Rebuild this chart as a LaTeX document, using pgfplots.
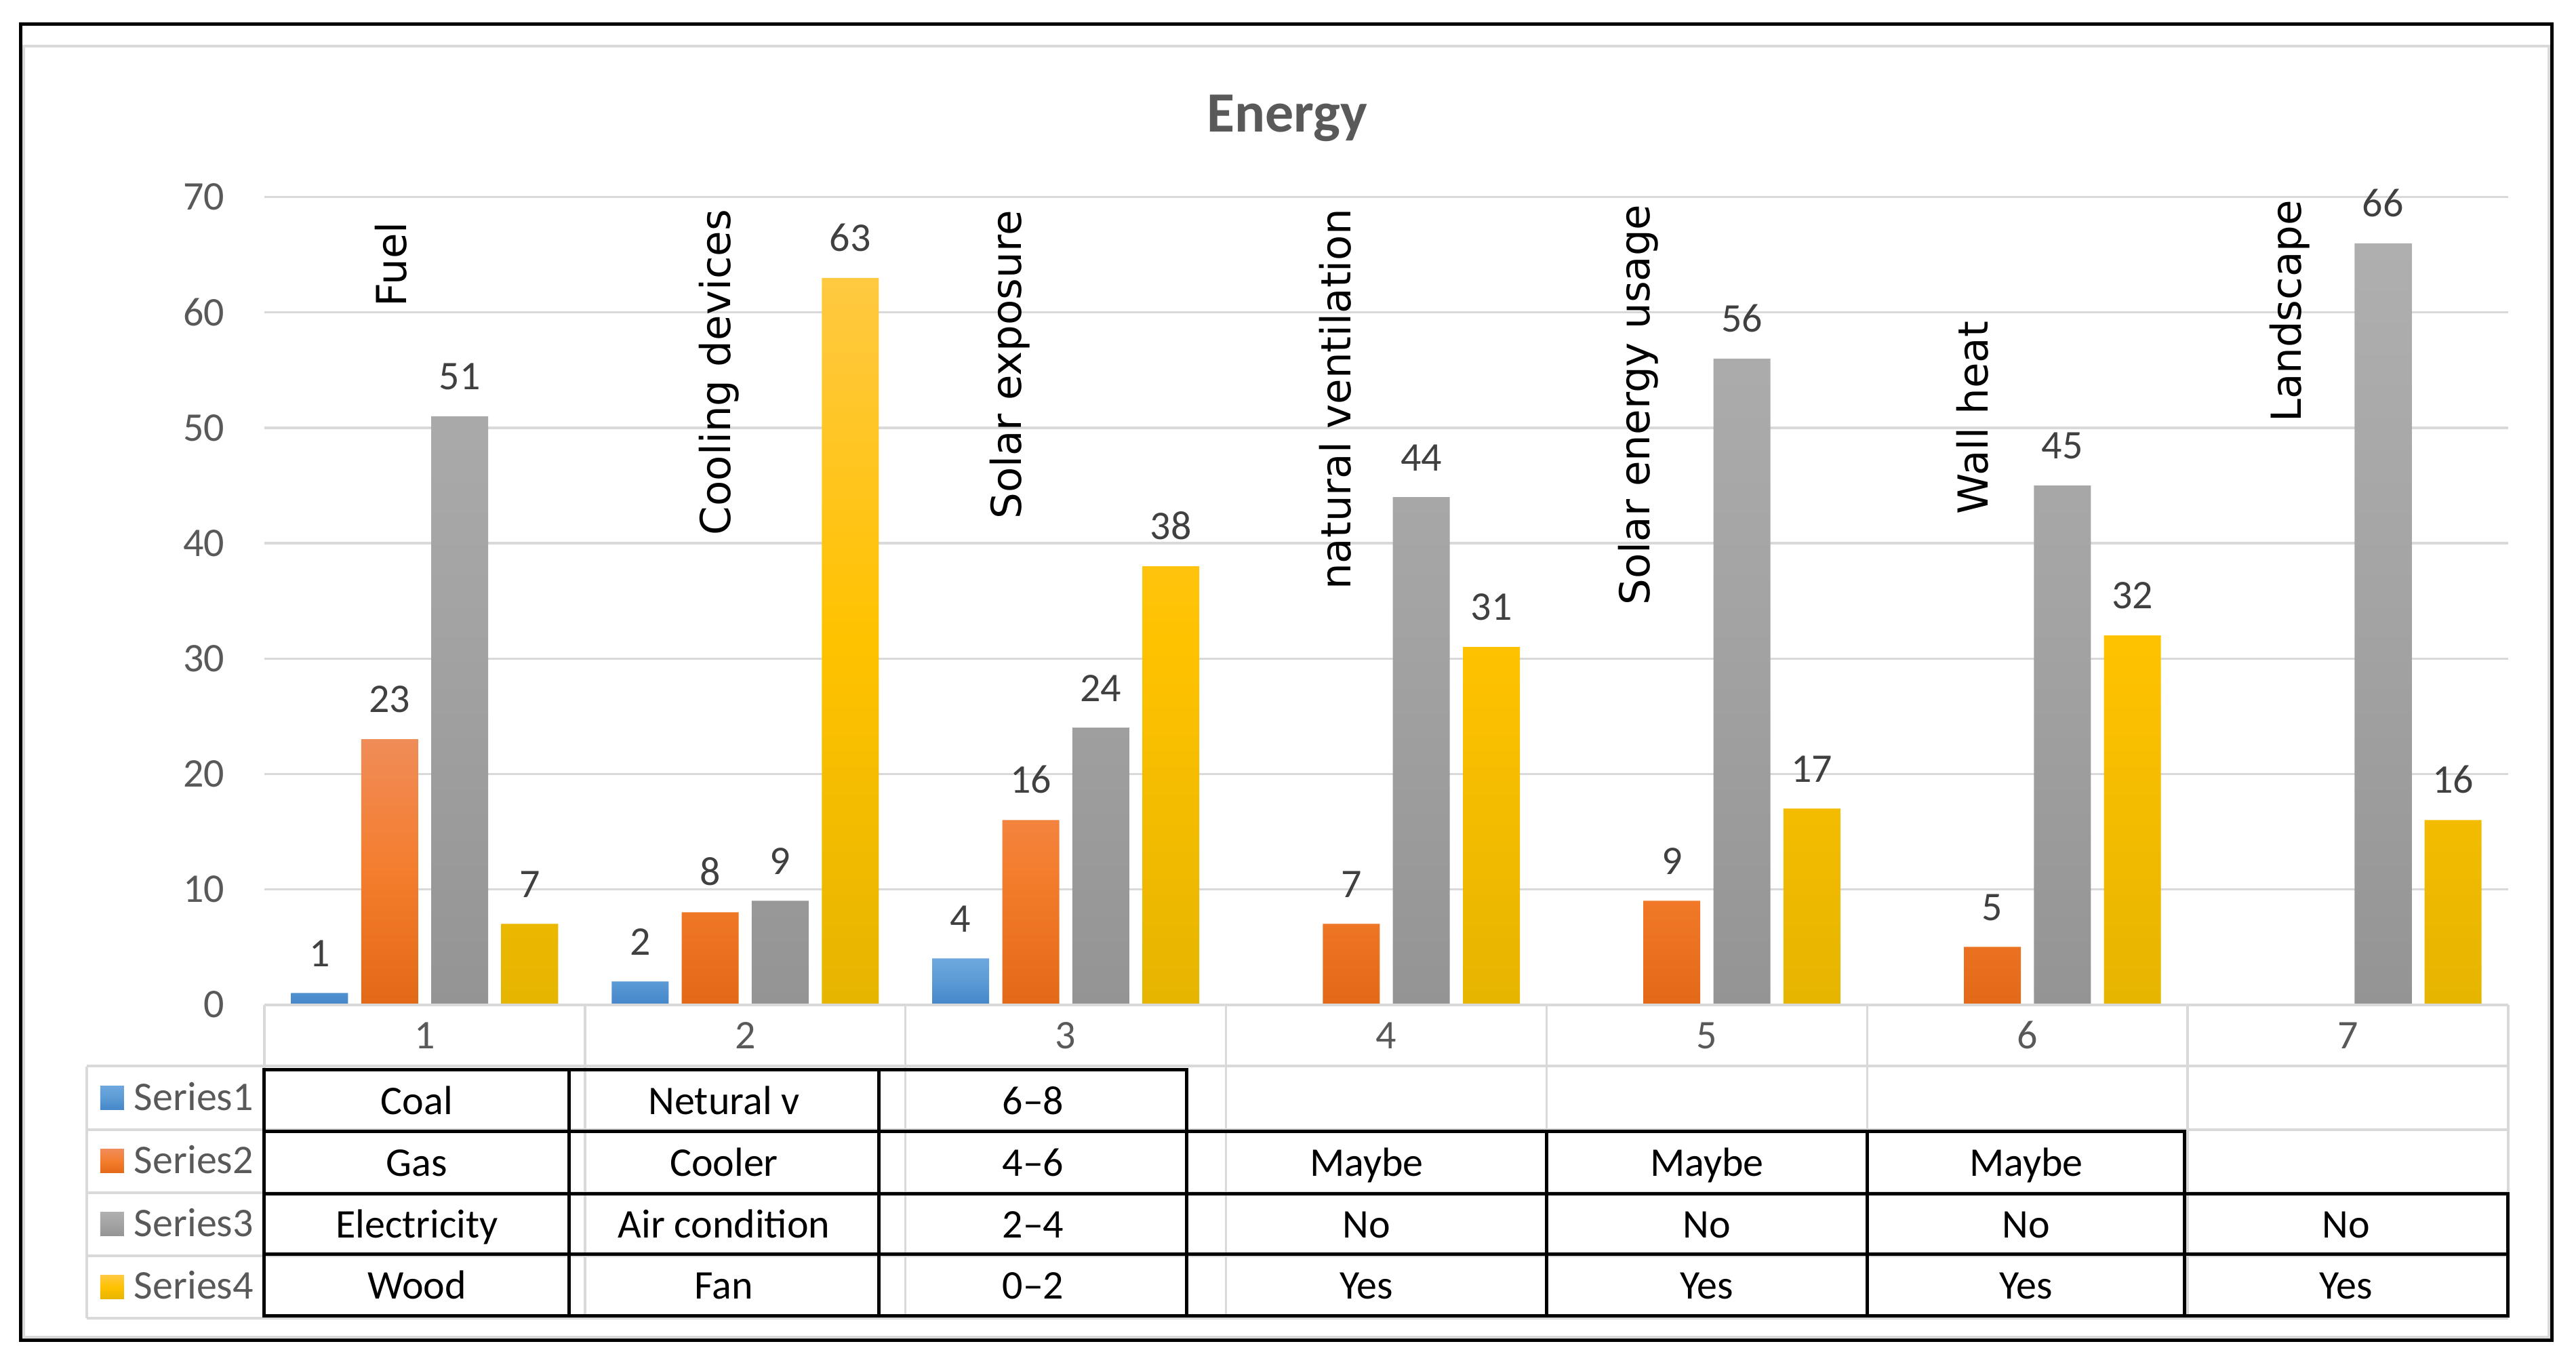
\documentclass[border=0pt]{standalone}
\usepackage{fontspec}
\setmainfont{Carlito}
\newfontfamily\dejavu{DejaVu Sans}
\usepackage{pgfplots}
\pgfplotsset{compat=1.18}

\definecolor{gridc}{HTML}{D9D9D9}
\definecolor{labc}{HTML}{595959}
\definecolor{valc}{HTML}{404040}
% Excel style gradients: top / middle / bottom
\definecolor{s1t}{HTML}{6EA7DE}\definecolor{s1m}{HTML}{5B9BD5}\definecolor{s1b}{HTML}{4486C9}
\definecolor{s2t}{HTML}{F08C58}\definecolor{s2m}{HTML}{F47D2D}\definecolor{s2b}{HTML}{E26917}
\definecolor{s3t}{HTML}{AFAFAF}\definecolor{s3m}{HTML}{A3A3A3}\definecolor{s3b}{HTML}{949494}
\definecolor{s4t}{HTML}{FFC941}\definecolor{s4m}{HTML}{FFC200}\definecolor{s4b}{HTML}{E6B500}

\newcommand{\lab}{\fontsize{12}{14}\selectfont}

\begin{document}
\begin{tikzpicture}
\useasboundingbox (0,0) rectangle (760pt,402.4pt);
\fill[white] (0,0) rectangle (760pt,402.4pt);

% frame, coordinates in pixels of the reference (origin top left)
\begin{scope}[x=0.2pt,y=-0.2pt,yshift=402.4pt]
  \draw[gridc, line width=0.8pt] (35,68) rectangle (3760,1972);
  \draw[black, line width=1pt] (31,36) rectangle (3765,1977);
  \node[anchor=base, text=labc, font=\fontsize{16.8}{19}\selectfont\bfseries] at (1899,195) {Energy};
\end{scope}

\begin{axis}[
  at={(78pt,106.1pt)}, anchor=south west,
  scale only axis, width=662pt, height=238.16pt,
  xmin=0.5, xmax=7.5, ymin=0, ymax=70,
  ytick={0,10,...,70}, xtick=\empty,
  ymajorgrids, grid style={gridc, line width=0.66pt},
  axis line style={draw=none},
  major tick length=0pt,
  ybar, bar width=16.8pt,
  /pgf/number format/assume math mode=true,
  yticklabel style={font=\lab, text=labc, anchor=east, inner sep=0pt, xshift=-11.6pt},
  nodes near coords,
  nodes near coords style={font=\lab, text=valc, anchor=south, inner sep=0pt, yshift=7.6pt},
  clip=false,
]
\addplot[draw=none, top color=s1t, bottom color=s1b, middle color=s1m, bar shift=-31pt]
  coordinates {(1,1) (2,2) (3,4)};
\addplot[draw=none, top color=s2t, bottom color=s2b, middle color=s2m, bar shift=-10.33pt]
  coordinates {(1,23) (2,8) (3,16) (4,7) (5,9) (6,5)};
\addplot[draw=none, top color=s3t, bottom color=s3b, middle color=s3m, bar shift=10.33pt]
  coordinates {(1,51) (2,9) (3,24) (4,44) (5,56) (6,45) (7,66)};
\addplot[draw=none, top color=s4t, bottom color=s4b, middle color=s4m, bar shift=31pt]
  coordinates {(1,7) (2,63) (3,38) (4,31) (5,17) (6,32) (7,16)};
\end{axis}

\begin{scope}[x=0.2pt,y=-0.2pt,yshift=402.4pt]
  % rotated category captions
  \begin{scope}[every node/.style={rotate=90, inner sep=0pt, font=\dejavu\fontsize{12.2}{14}\selectfont}]
    \node at (577,390) {Fuel};
    \node at (1061,549) {Cooling devices};
    \node at (1490,538) {Solar exposure};
    \node at (1970,589) {natural ventilation};
    \node at (2417,597) {Solar energy usage};
    \node at (2910,616) {Wall heat};
    \node at (3378,459) {Landscape};
  \end{scope}

  % Excel data table (light grey)
  \begin{scope}[gridc, line width=0.66pt]
    \draw (390,1482) -- (3700,1482);
    \foreach \k in {0,...,7} \draw ({390+\k*472.857},1482) -- ({390+\k*472.857},1944);
    \draw (128,1573) -- (128,1944);
    \foreach \y in {1572,1666,1759,1852,1944} \draw (128,\y) -- (3700,\y);
  \end{scope}
  \foreach \i in {1,...,7}
    \node[anchor=base, text=labc, font=\lab, inner sep=0pt] at ({390+(\i-0.5)*472.857},1547) {\i};

  % legend keys
  \foreach \n/\y in {1/1619.5,2/1712.5,3/1805.5,4/1898} {
    \shade[top color=s\n t, bottom color=s\n b, middle color=s\n m] (148,\y-17.5) rectangle (183,\y+17.5);
    \node[anchor=base west, text=labc, font=\lab, inner sep=0pt] at (197,\y+18) {Series\n};
  }

  % black table drawn over it
  \begin{scope}[black, line width=1pt, line cap=rect]
    \draw (390,1578) -- (1751,1578);
    \draw (390,1669) -- (3223,1669);
    \draw (390,1761) -- (3700,1761);
    \draw (390,1850) -- (3700,1850);
    \draw (390,1941) -- (3700,1941);
    \foreach \x in {390,840,1297,1751} \draw (\x,1578) -- (\x,1941);
    \foreach \x in {2282,2755,3223} \draw (\x,1669) -- (\x,1941);
    \draw (3700,1761) -- (3700,1941);
  \end{scope}

  \begin{scope}[every node/.style={anchor=base, inner sep=0pt, font=\lab}]
    \node at (615,1644) {Coal};
    \node at (1068,1644) {Netural v};
    \node at (1524,1644) {6--8};

    \node at (615,1735) {Gas};
    \node at (1068,1735) {Cooler};
    \node at (1524,1735) {4--6};
    \node at (2016,1735) {Maybe};
    \node at (2518,1735) {Maybe};
    \node at (2989,1735) {Maybe};

    \node at (615,1826) {Electricity};
    \node at (1068,1826) {Air condition};
    \node at (1524,1826) {2--4};
    \node at (2016,1826) {No};
    \node at (2518,1826) {No};
    \node at (2989,1826) {No};
    \node at (3461,1826) {No};

    \node at (615,1916) {Wood};
    \node at (1068,1916) {Fan};
    \node at (1524,1916) {0--2};
    \node at (2016,1916) {Yes};
    \node at (2518,1916) {Yes};
    \node at (2989,1916) {Yes};
    \node at (3461,1916) {Yes};
  \end{scope}
\end{scope}
\end{tikzpicture}
\end{document}
